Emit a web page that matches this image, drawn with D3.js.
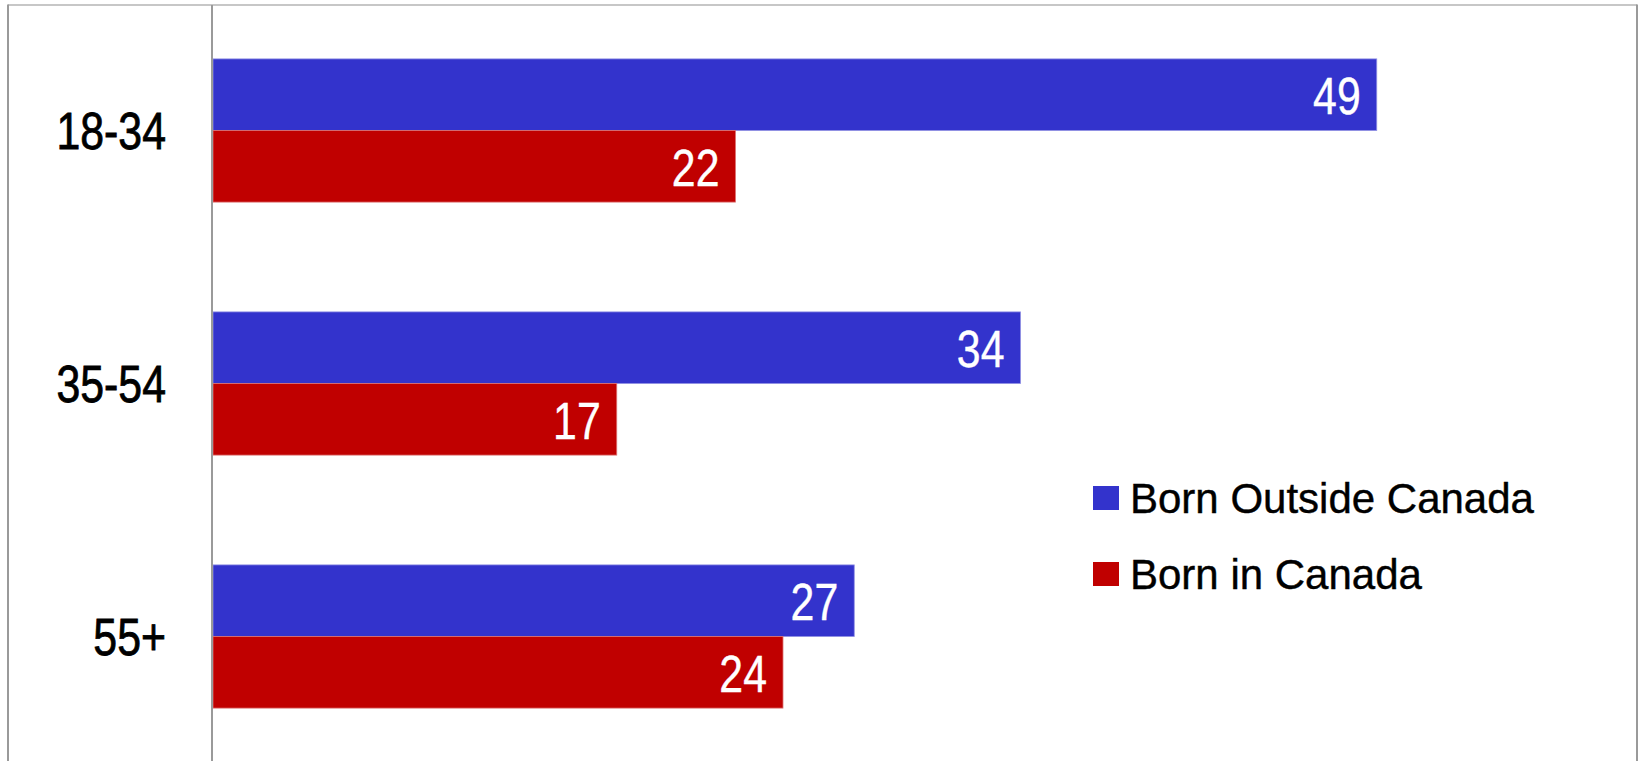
<!DOCTYPE html>
<html>
<head>
<meta charset="utf-8">
<script src="https://cdn.jsdelivr.net/npm/d3@7"></script>
<style>
  html, body { margin: 0; padding: 0; background: #fff; }
  svg { display: block; }
  text { font-family: "Liberation Sans", Arial, sans-serif; }
</style>
</head>
<body>
<svg id="chart" width="1639" height="761"></svg>
<script>
// Age groups and the two respondent series
const categories = ["18-34", "35-54", "55+"];
const seriesNames = ["Born Outside Canada", "Born in Canada"];
const bornOutsideCanada = [49, 34, 27];
const bornInCanada = [22, 17, 24];
const seriesColors = ["#3333CC", "#C00000"];

const W = 1639, H = 761;
const narrow = 0.84; // horizontal squeeze for the condensed label face

const svg = d3.select("#chart");

const rows = categories.map((c, i) => ({
  category: c,
  values: [
    { series: seriesNames[0], value: bornOutsideCanada[i], color: seriesColors[0] },
    { series: seriesNames[1], value: bornInCanada[i], color: seriesColors[1] }
  ]
}));

const x = d3.scaleLinear().domain([0, 60]).range([213, 1638]);
const y0 = d3.scaleBand().domain(categories).range([4, 763])
  .paddingInner(0.434).paddingOuter(0.217);
const y1 = d3.scaleBand().domain(seriesNames).range([0, y0.bandwidth()]);

// outer frame
svg.append("line").attr("x1", 8).attr("x2", 1637).attr("y1", 5).attr("y2", 5)
  .attr("stroke", "#b4b4b4").attr("stroke-width", 1.5);
svg.append("line").attr("x1", 8).attr("x2", 8).attr("y1", 4.5).attr("y2", H)
  .attr("stroke", "#9a9a9a").attr("stroke-width", 2);
svg.append("line").attr("x1", 1637).attr("x2", 1637).attr("y1", 4.5).attr("y2", H)
  .attr("stroke", "#9a9a9a").attr("stroke-width", 2);

// bars
const groups = svg.append("g").selectAll("g.row")
  .data(rows).join("g")
  .attr("class", "row")
  .attr("transform", d => `translate(0,${y0(d.category)})`);

groups.selectAll("rect")
  .data(d => d.values).join("rect")
  .attr("x", x(0))
  .attr("y", d => y1(d.series))
  .attr("width", d => x(d.value) - x(0))
  .attr("height", y1.bandwidth())
  .attr("fill", d => d.color)
  .attr("stroke", d => d3.interpolateRgb(d.color, "#ffffff")(0.45))
  .attr("stroke-width", 0.8);

// value labels inside bar ends
groups.selectAll("g.val")
  .data(d => d.values).join("g")
  .attr("class", "val")
  .attr("transform", d => `translate(${x(d.value) - 16},${y1(d.series) + y1.bandwidth() / 2 + 19.5})`)
  .append("text")
  .attr("transform", `scale(${narrow},1)`)
  .attr("text-anchor", "end")
  .attr("font-size", 51)
  .attr("fill", "#ffffff")
  .attr("stroke", "#ffffff")
  .attr("stroke-width", 0.4)
  .text(d => d.value);

// category axis
const yAxis = d3.axisLeft(y0).tickSize(0).tickPadding(56);
const axisG = svg.append("g")
  .attr("transform", `translate(${x(0)},0)`)
  .call(yAxis);
axisG.select(".domain").remove();
axisG.selectAll(".tick text")
  .attr("font-family", "Liberation Sans, Arial, sans-serif")
  .attr("font-size", 51)
  .attr("fill", "#000")
  .attr("stroke", "#000")
  .attr("stroke-width", 0.8)
  .attr("dy", "0.36em")
  .attr("transform", `scale(${narrow},1)`);

// vertical axis line
svg.append("line")
  .attr("x1", x(0) - 1).attr("x2", x(0) - 1)
  .attr("y1", 5).attr("y2", H)
  .attr("stroke", "#9a9a9a").attr("stroke-width", 2);

// legend
const legend = svg.append("g").attr("transform", "translate(1093,486)");
const items = legend.selectAll("g")
  .data(seriesNames.map((s, i) => ({ name: s, color: seriesColors[i] })))
  .join("g")
  .attr("transform", (d, i) => `translate(0,${i * 76})`);
items.append("rect")
  .attr("width", 26).attr("height", 24)
  .attr("fill", d => d.color);
items.append("text")
  .attr("x", 37).attr("y", 26.5)
  .attr("font-size", 42)
  .attr("fill", "#000")
  .attr("stroke", "#000")
  .attr("stroke-width", 0.4)
  .text(d => d.name);
</script>
</body>
</html>
